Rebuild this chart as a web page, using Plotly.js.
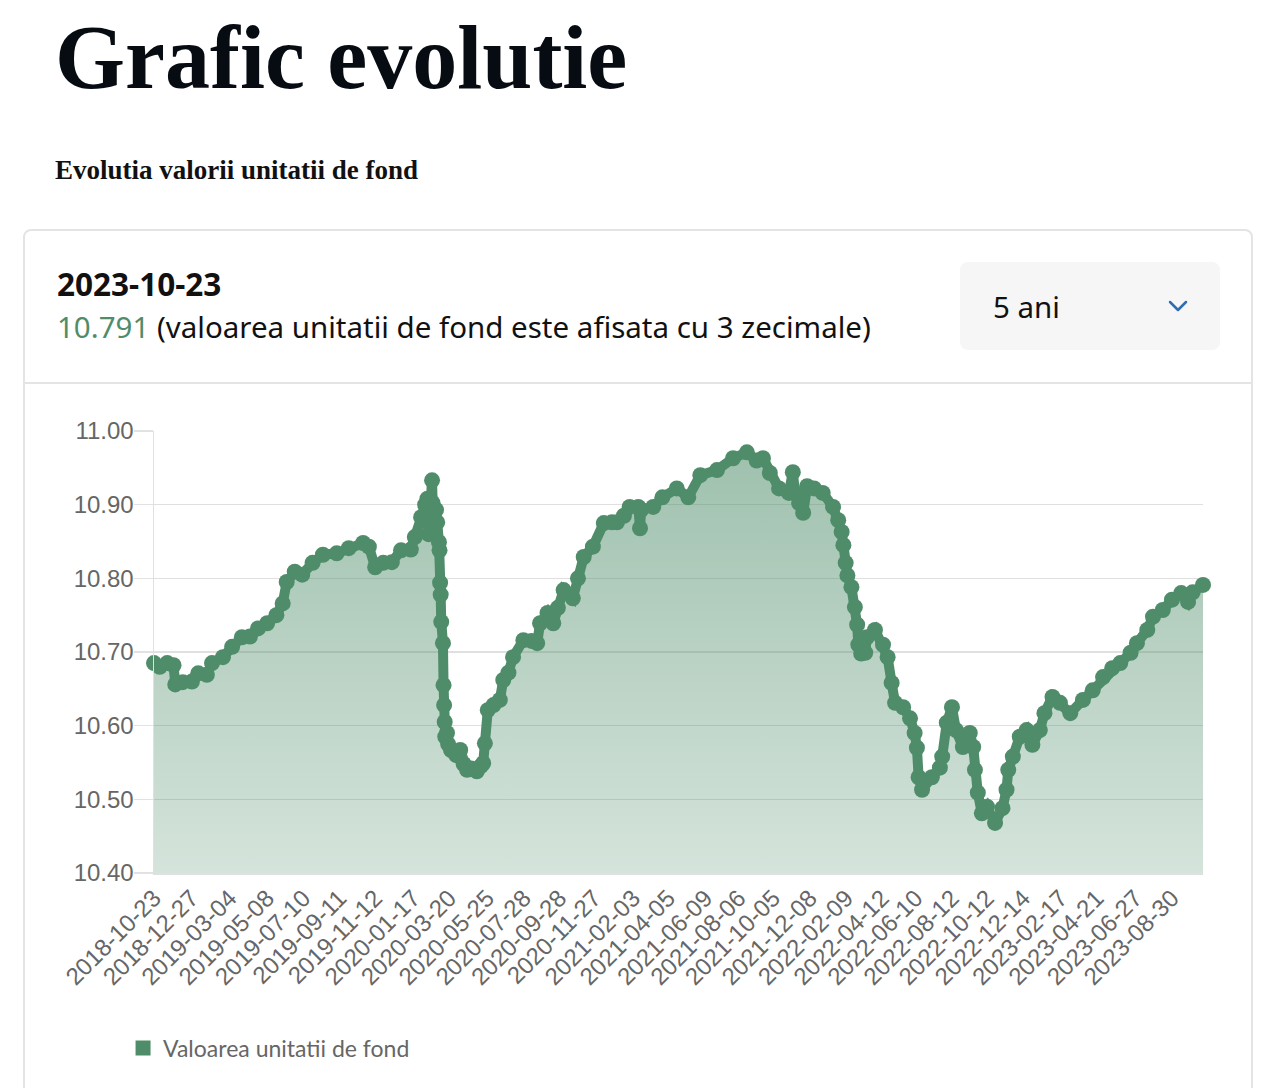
<!DOCTYPE html>
<html>
<head>
<meta charset="utf-8">
<script src="https://cdn.plot.ly/plotly-3.0.1.min.js"></script>
<style>
html,body{margin:0;padding:0;background:#fff;width:1262px;height:1088px;overflow:hidden;}
.abs{position:absolute;white-space:nowrap;}
#title{left:55px;top:13px;font-family:'Liberation Serif',serif;font-weight:700;font-size:90px;line-height:90px;color:#070c13;}
#subtitle{left:55px;top:157px;font-family:'Liberation Serif',serif;font-weight:700;font-size:27px;line-height:27px;color:#111;}
#card{left:23px;top:229px;width:1230px;height:900px;box-sizing:border-box;border:2px solid #e4e4e4;border-radius:8px;}
#sep{left:25px;top:382px;width:1226px;height:2px;background:#e4e4e4;}
#date{left:57px;top:268px;font-family:'Noto Sans',sans-serif;font-weight:700;font-size:31.5px;line-height:31.5px;color:#111;}
#value{left:57px;top:312px;font-family:'Noto Sans',sans-serif;font-size:29.5px;line-height:29.5px;color:#111;}
#value .num{color:#4f8d6a;}
#dd{left:960px;top:262px;width:260px;height:88px;background:#f6f6f6;border-radius:8px;}
#ddtext{left:993px;top:292px;font-family:'Noto Sans',sans-serif;font-size:29.5px;line-height:29.5px;color:#111;}
#chev{left:1168px;top:299px;}
#chart{left:25px;top:385px;width:1226px;height:700px;}
</style>
</head>
<body>
<div id="title" class="abs">Grafic evolutie</div>
<div id="subtitle" class="abs">Evolutia valorii unitatii de fond</div>
<div id="card" class="abs"></div>
<div id="sep" class="abs"></div>
<div id="date" class="abs"></div>
<div id="value" class="abs"><span class="num"></span> <span class="txt"></span></div>
<div id="dd" class="abs"></div>
<div id="ddtext" class="abs">5 ani</div>
<svg id="chev" class="abs" width="22" height="16"><polyline points="2,3 10,11 18,3" fill="none" stroke="#2f6db5" stroke-width="2.5" stroke-linecap="round" stroke-linejoin="round"/></svg>
<div id="chart" class="abs"></div>
<script>
const dates = [
'2018-10-23','2018-11-02','2018-11-15','2018-11-26','2018-11-29','2018-12-12','2018-12-28',
'2019-01-08','2019-01-23','2019-02-01','2019-02-20','2019-03-08','2019-03-25','2019-04-08','2019-04-22',
'2019-05-08','2019-05-24','2019-06-04','2019-06-11','2019-06-25','2019-07-08','2019-07-26','2019-08-13',
'2019-09-06','2019-09-27','2019-10-22','2019-11-01','2019-11-12','2019-11-26','2019-12-11','2019-12-27',
'2020-01-13','2020-01-20','2020-01-31','2020-02-07','2020-02-11','2020-02-13','2020-02-17','2020-02-19',
'2020-02-20','2020-02-24','2020-02-26','2020-02-28','2020-03-02','2020-03-03','2020-03-04','2020-03-05',
'2020-03-06','2020-03-09','2020-03-10','2020-03-11','2020-03-12','2020-03-13','2020-03-16','2020-03-18',
'2020-03-23','2020-04-01','2020-04-08','2020-04-14','2020-04-20','2020-04-27','2020-05-07','2020-05-14',
'2020-05-18','2020-05-21','2020-05-26','2020-06-05','2020-06-16','2020-06-22','2020-07-01','2020-07-09',
'2020-07-27','2020-08-10','2020-08-20','2020-08-25','2020-09-07','2020-09-17','2020-09-25','2020-10-05',
'2020-10-21','2020-10-30','2020-11-09','2020-11-25','2020-12-14','2020-12-28','2021-01-06','2021-01-18',
'2021-01-28','2021-02-12','2021-02-15','2021-02-17','2021-03-10','2021-03-26','2021-04-20','2021-05-10',
'2021-05-31','2021-06-29','2021-07-27','2021-08-20','2021-09-06','2021-09-17','2021-09-29','2021-10-15',
'2021-11-01','2021-11-08','2021-11-12','2021-11-19','2021-11-26','2021-12-03','2021-12-15','2021-12-30',
'2022-01-17','2022-01-26','2022-02-01','2022-02-04','2022-02-08','2022-02-11','2022-02-18','2022-02-24',
'2022-02-28','2022-03-02','2022-03-07','2022-03-14','2022-03-17','2022-03-31','2022-04-14','2022-04-22',
'2022-04-29','2022-05-05','2022-05-19','2022-05-31','2022-06-08','2022-06-12','2022-06-15','2022-06-21',
'2022-07-08','2022-07-22','2022-07-26','2022-08-03','2022-08-12','2022-08-19','2022-08-31','2022-09-12',
'2022-09-18','2022-09-21','2022-09-26','2022-10-03','2022-10-12','2022-10-26','2022-11-08','2022-11-15',
'2022-11-18','2022-11-26','2022-12-08','2022-12-20','2022-12-30','2023-01-12','2023-01-20','2023-02-03',
'2023-02-16','2023-03-06','2023-03-28','2023-04-14','2023-05-02','2023-05-18','2023-06-01','2023-06-19',
'2023-06-30','2023-07-18','2023-07-28','2023-08-14','2023-08-30','2023-09-15','2023-09-27','2023-10-05',
'2023-10-23'
];
const values = [
10.685,10.680,10.685,10.682,10.656,10.659,10.660,
10.671,10.669,10.685,10.693,10.707,10.720,10.721,10.732,
10.739,10.750,10.766,10.795,10.809,10.805,10.821,10.832,
10.834,10.841,10.848,10.843,10.815,10.821,10.822,10.838,
10.839,10.856,10.883,10.900,10.908,10.860,10.905,10.933,
10.902,10.876,10.893,10.876,10.849,10.838,10.794,10.778,
10.741,10.712,10.655,10.628,10.605,10.585,10.590,10.575,
10.567,10.560,10.567,10.548,10.540,10.542,10.538,10.545,
10.549,10.576,10.621,10.628,10.635,10.662,10.672,10.693,
10.716,10.715,10.712,10.739,10.753,10.739,10.760,10.784,
10.773,10.800,10.829,10.843,10.875,10.876,10.876,10.885,
10.897,10.897,10.868,10.893,10.897,10.910,10.922,10.910,
10.940,10.947,10.963,10.971,10.960,10.963,10.943,10.922,
10.916,10.944,10.915,10.902,10.889,10.925,10.922,10.916,
10.897,10.879,10.863,10.845,10.821,10.804,10.788,10.761,
10.737,10.710,10.698,10.699,10.720,10.730,10.710,10.693,
10.658,10.631,10.625,10.610,10.590,10.570,10.530,10.513,
10.530,10.543,10.558,10.604,10.625,10.594,10.571,10.590,
10.571,10.540,10.509,10.481,10.490,10.468,10.488,10.513,
10.540,10.558,10.585,10.594,10.574,10.594,10.617,10.639,
10.631,10.617,10.635,10.648,10.666,10.678,10.685,10.699,
10.712,10.730,10.748,10.757,10.771,10.780,10.768,10.781,
10.791
];
const tickDates = [
'2018-10-23','2018-12-27','2019-03-04','2019-05-08','2019-07-10','2019-09-11','2019-11-12',
'2020-01-17','2020-03-20','2020-05-25','2020-07-28','2020-09-28','2020-11-27','2021-02-03',
'2021-04-05','2021-06-09','2021-08-06','2021-10-05','2021-12-08','2022-02-09','2022-04-12',
'2022-06-10','2022-08-12','2022-10-12','2022-12-14','2023-02-17','2023-04-21','2023-06-27',
'2023-08-30'
];
const yTicks = [10.40,10.50,10.60,10.70,10.80,10.90,11.00];
const seriesName = 'Valoarea unitatii de fond';
const noteText = '(valoarea unitatii de fond este afisata cu 3 zecimale)';

const GREEN = '#4f8d6a';
document.getElementById('date').textContent = dates[dates.length-1];
document.querySelector('#value .num').textContent = values[values.length-1].toFixed(3);
document.querySelector('#value .txt').textContent = noteText;

const main = {
  type:'scatter', mode:'lines+markers', x:dates, y:values,
  line:{color:GREEN, width:10},
  marker:{color:GREEN, size:16},
  fill:'tozeroy',
  fillgradient:{type:'vertical', start:10.4, stop:11.0,
    colorscale:[[0,'rgba(79,141,106,0.24)'],[1,'rgba(79,141,106,0.56)']]},
  cliponaxis:false, showlegend:false, hoverinfo:'skip'
};
const legendTrace = {
  type:'scatter', mode:'markers', x:[null], y:[null], name:seriesName,
  marker:{symbol:'square', size:15, color:GREEN}, showlegend:true, hoverinfo:'skip'
};
const xFont = {family:'Liberation Sans, Arial, sans-serif', size:24, color:'#666'};
const yFont = {family:'Liberation Sans, Arial, sans-serif', size:24, color:'#666'};
const layout = {
  width:1226, height:700,
  margin:{l:129, r:48, t:46, b:212, pad:0},
  paper_bgcolor:'rgba(0,0,0,0)', plot_bgcolor:'rgba(0,0,0,0)',
  showlegend:true,
  legend:{orientation:'h', x:-0.0295, xanchor:'left', y:-0.396, yanchor:'middle',
    font:{family:'Lato, sans-serif', size:23, color:'#666'}, bgcolor:'rgba(0,0,0,0)'},
  xaxis:{type:'date', range:[dates[0], dates[dates.length-1]], autorange:false,
    tickmode:'array', tickvals:tickDates, ticktext:tickDates, tickangle:-45,
    tickfont:xFont, showgrid:false, showline:true, linecolor:'#e0e0e0', linewidth:1.5,
    ticks:'', zeroline:false, fixedrange:true},
  yaxis:{range:[10.4,11.0], autorange:false, tickmode:'array', tickvals:yTicks,
    ticktext:yTicks.map(v=>v.toFixed(2)),
    ticks:'outside', ticklen:19, tickcolor:'#e2e2e2', tickwidth:1.5, ticklabelstandoff:-5,
    showgrid:true, gridcolor:'#e0e0e0', gridwidth:1.5,
    showline:true, linecolor:'#e0e0e0', linewidth:1.5,
    tickfont:yFont, zeroline:false, fixedrange:true}
};
Plotly.newPlot('chart', [main, legendTrace], layout, {displayModeBar:false, staticPlot:true});
</script>
</body>
</html>
